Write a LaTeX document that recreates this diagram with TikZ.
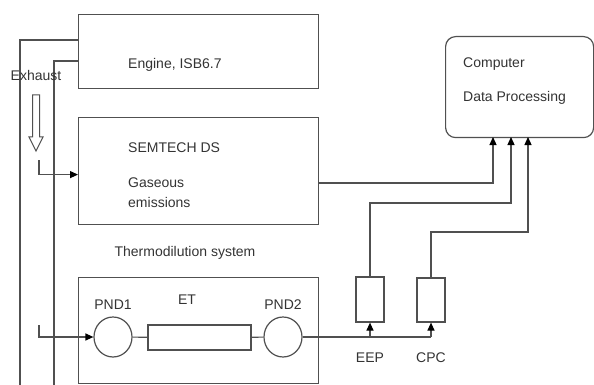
\documentclass[tikz,border=0pt]{standalone}
\usepackage{fontspec}
\setmainfont{Liberation Sans}
\usetikzlibrary{arrows.meta,positioning,shapes.geometric}

\definecolor{linegray}{HTML}{505050}
\definecolor{textgray}{HTML}{333333}

\tikzset{
  line/.style={draw=linegray, line width=1.2pt},
  arrow/.style={line, -{Triangle[length=8pt,width=7pt,color=black]}},
  box/.style={line, rectangle, inner sep=0pt},
  probe/.style={line, ellipse, inner sep=0pt, minimum width=38, minimum height=40},
  txt/.style={text=textgray, font=\fontsize{14}{16}\selectfont, inner sep=0pt},
}

\begin{document}
\begin{tikzpicture}[x=1pt,y=-1pt]
    \useasboundingbox (0,0) rectangle (594,385);

    % main boxes
    \node[box, minimum width=240, minimum height=74, anchor=north west] (engine) at (78,14) {};
    \node[box, minimum width=240, minimum height=107, anchor=north west] (semtech) at (78,117) {};
    \node[box, minimum width=240, minimum height=106, anchor=north west] (thermo) at (78,277) {};
    \node[box, rounded corners=10pt, minimum width=148, minimum height=101, anchor=north west] (computer) at (445,36) {};

    \node[txt, anchor=west] (enginetxt) at (128,65) {Engine, ISB6.7};
    \node[txt, anchor=west] (semtechtxt) at (128,148) {SEMTECH DS};
    \node[txt, anchor=west] (gastxt) at (128,183) {Gaseous};
    \node[txt, anchor=west] (emtxt) at (128,202) {emissions};
    \node[txt] (thermotxt) at (185,253) {Thermodilution system};
    \node[txt, anchor=west] (comptxt) at (463,64) {Computer};
    \node[txt, anchor=west] (datatxt) at (463,98) {Data Processing};

    % thermodilution parts
    \node[probe] (pnd1) at (113,337) {};
    \node[box, minimum width=103, minimum height=25] (et) at (199.5,337.5) {};
    \node[probe] (pnd2) at (283,337) {};
    \node[txt] (pnd1txt) at (113,305) {PND1};
    \node[txt] (ettxt) at (187,300) {ET};
    \node[txt] (pnd2txt) at (283,305) {PND2};
    \draw[line] (pnd1) -- (et) -- (pnd2);

    % particle instruments
    \node[box, minimum width=28, minimum height=45] (eep) at (370,299.5) {};
    \node[box, minimum width=28, minimum height=44] (cpc) at (431,300) {};
    \node[txt] (eeptxt) at (370,358) {EEP};
    \node[txt] (cpctxt) at (431,358) {CPC};
    \coordinate (split) at (431,337);
    \draw[line] (pnd2.east) -- (split);
    \draw[arrow] (eep.south |- split) -- (eep.south);
    \draw[arrow] (split) -- (cpc.south);

    % signals to computer
    \coordinate (in1) at (493,137);
    \coordinate (in2) at (511,137);
    \coordinate (in3) at (528,137);
    \draw[arrow] (318,183) -| (in1);
    \draw[arrow] (eep.north) |- (511,203) -- (in2);
    \draw[arrow] (cpc.north) |- (528,232) -- (in3);

    % exhaust lines
    \coordinate (ex1) at (78,40);
    \coordinate (ex2) at (78,61);
    \draw[line] (ex1) -| (20,386);
    \draw[line] (ex2) -| (54,386);
    \node[txt] (exhausttxt) at (36,75) {Exhaust};
    \draw[line, line width=1pt] (32.5,95) -- (32.5,137) -- (29,137) -- (36,151)
        -- (43,137) -- (39.5,137) -- (39.5,95) -- cycle;
    \draw[arrow] (39,160) |- ([yshift=-3.5pt]semtech.west);
    \draw[arrow] (39,325) |- (pnd1.west);
\end{tikzpicture}
\end{document}
